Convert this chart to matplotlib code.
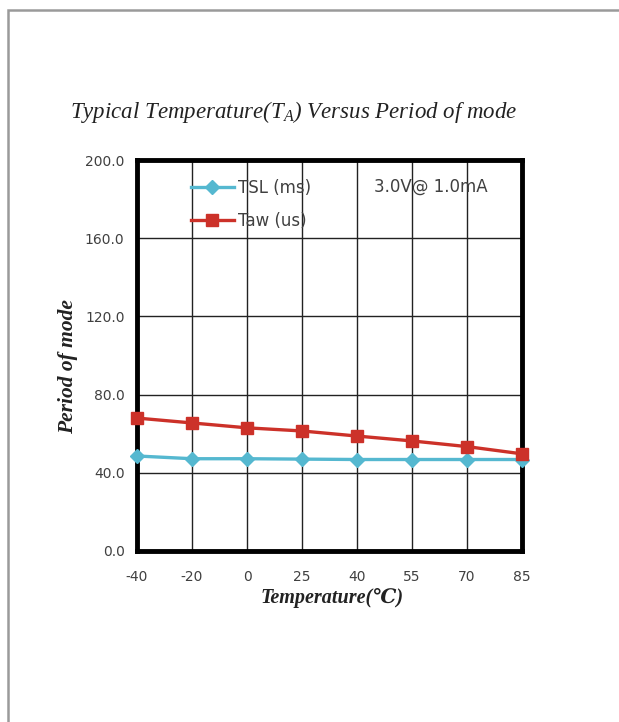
import matplotlib
matplotlib.use("Agg")
import matplotlib.pyplot as plt
from matplotlib.patches import Rectangle

plt.rcParams["mathtext.fontset"] = "custom"
plt.rcParams["mathtext.it"] = "Liberation Serif:italic"
plt.rcParams["mathtext.rm"] = "Liberation Serif:italic"

temps = ["-40", "-20", "0", "25", "40", "55", "70", "85"]
tsl_ms = [48.6, 47.2, 47.2, 47.0, 46.8, 46.8, 46.8, 46.8]
taw_us = [68.0, 65.5, 63.0, 61.4, 58.8, 56.3, 53.4, 49.7]
yticks = [0, 40, 80, 120, 160, 200]

fig = plt.figure(figsize=(6.19, 7.22), dpi=100)
fig.patch.set_facecolor("white")
# page border
fig.add_artist(Rectangle((8/619, -0.01), 1.0, 1 - 10/722 + 0.01, transform=fig.transFigure,
                         fill=False, edgecolor="#9a9a9a", linewidth=1.8))

ax = fig.add_axes([137/619, 1 - 551/722, (522-137)/619, (551-160)/722])
x = list(range(len(temps)))
ax.plot(x, tsl_ms, color="#55b8d0", marker="D", markersize=7, linewidth=2.4, label="TSL (ms)", clip_on=False, zorder=3)
ax.plot(x, taw_us, color="#cc3129", marker="s", markersize=8.5, linewidth=2.4, label="Taw (us)", clip_on=False, zorder=4)

ax.set_xlim(0, len(temps) - 1)
ax.set_ylim(0, 200)
ax.set_xticks(x)
ax.set_xticklabels(temps)
ax.set_yticks(yticks)
ax.set_yticklabels([f"{v:.1f}" for v in yticks])
ax.grid(True, color="#222222", linewidth=1.0)
ax.set_axisbelow(True)
for s in ax.spines.values():
    s.set_linewidth(3.5)
    s.set_color("black")
ax.tick_params(axis="x", length=0, labelsize=10, labelcolor="#404040", pad=14)
ax.tick_params(axis="y", length=0, labelsize=10, labelcolor="#404040", pad=9)
for lbl in ax.get_xticklabels() + ax.get_yticklabels():
    lbl.set_family("DejaVu Sans")

leg = ax.legend(loc="upper left", bbox_to_anchor=(0.1, 0.99), frameon=False,
                prop={"family": "DejaVu Sans", "size": 12}, handlelength=2.6,
                handletextpad=0.25, labelspacing=0.92, labelcolor="#404040")
ax.text(0.615, 0.932, "3.0V@ 1.0mA", transform=ax.transAxes, family="DejaVu Sans",
        fontsize=12, color="#404040", ha="left", va="center")

fig.text(294/619, 1 - 112/722, "Typical Temperature(T$_A$) Versus Period of mode",
         family=["Liberation Serif", "DejaVu Serif"], style="italic", fontsize=16.5,
         ha="center", va="center", color="#222222")
fig.text(332/619, 1 - 598/722, "Temperature(\u2103)", family=["Liberation Serif", "DejaVu Serif"],
         style="italic", weight="bold", fontsize=14.5, ha="center", va="center", color="#222222")
fig.text(68/619, 1 - 367/722, "Period of mode", family=["Liberation Serif", "DejaVu Serif"],
         style="italic", weight="bold", fontsize=15.5, ha="center", va="center", rotation=90,
         color="#222222")

fig.savefig("out.png", dpi=100)
